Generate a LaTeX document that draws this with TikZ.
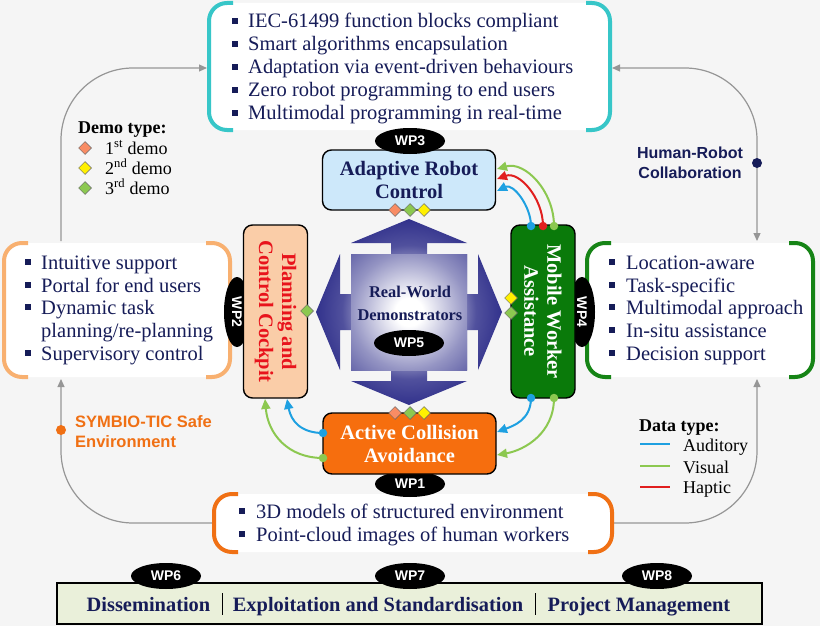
\documentclass[tikz,border=0pt]{standalone}
\usepackage{fontspec}
\setmainfont{Liberation Serif}
\setsansfont{Liberation Sans}
\usetikzlibrary{arrows.meta,shapes.geometric,calc}
\definecolor{navy}{RGB}{22,28,88}
\definecolor{cyanb}{RGB}{55,198,200}
\definecolor{lorange}{RGB}{248,176,112}
\definecolor{dgreen}{RGB}{22,132,22}
\definecolor{borange}{RGB}{240,112,20}
\definecolor{lblue}{RGB}{205,232,250}
\definecolor{peach}{RGB}{250,205,168}
\definecolor{mwgreen}{RGB}{10,122,10}
\definecolor{acaorange}{RGB}{246,110,14}
\definecolor{barfill}{RGB}{234,240,218}
\definecolor{dsalmon}{RGB}{248,140,100}
\definecolor{dyellow}{RGB}{255,240,0}
\definecolor{dlgreen}{RGB}{140,200,80}
\definecolor{aud}{RGB}{30,160,225}
\definecolor{vis}{RGB}{140,200,80}
\definecolor{hap}{RGB}{225,30,30}
\definecolor{shapeblue}{RGB}{50,50,140}
\definecolor{bgc}{RGB}{245,245,245}
\definecolor{loopgray}{RGB}{150,150,150}
\definecolor{pccred}{RGB}{232,20,28}
\pgfdeclareradialshading{cshade}{\pgfpoint{0bp}{0bp}}{color(0bp)=(white); color(4bp)=(white); color(10bp)=(shapeblue!38!white); color(14.5bp)=(shapeblue!62!white); color(18bp)=(shapeblue!85!white); color(25bp)=(shapeblue); color(50bp)=(shapeblue)}
\pgfdeclareradialshading{sqshade}{\pgfpoint{0bp}{0bp}}{color(0bp)=(white); color(6bp)=(white); color(25bp)=(shapeblue!52!white); color(36bp)=(shapeblue!75!white); color(50bp)=(shapeblue!75!white)}
\newcommand\mybracket[5]{%
  \fill[white,rounded corners=18pt] (#2,#3) rectangle (#4,#5);
  \draw[#1,line width=4pt,rounded corners=18pt] (#2+24,#3) -- (#2,#3) -- (#2,#5) -- (#2+24,#5);
  \draw[#1,line width=4pt,rounded corners=18pt] (#4-24,#3) -- (#4,#3) -- (#4,#5) -- (#4-24,#5);
}
\tikzset{
  wp/.style={ellipse, fill=black, text=white, font=\sffamily\bfseries\fontsize{14}{14}\selectfont, minimum width=70pt, minimum height=26pt, inner sep=0pt},
  boxn/.style={draw=black, line width=1.4pt, rounded corners=9pt, align=center, font=\bfseries\fontsize{20.5}{23}\selectfont, inner sep=0pt},
  item/.style={anchor=base west, text=navy, font=\fontsize{20.5}{23}\selectfont, inner sep=0pt},
  bul/.style={fill=navy, minimum size=6pt, inner sep=0pt},
  dia/.style={diamond, draw=black!60, line width=0.5pt, minimum size=13pt, inner sep=0pt},
  loopl/.style={draw=loopgray, line width=1.2pt, rounded corners=72pt},
  tip/.style={-{Triangle[length=8pt,width=7pt]}},
  dl/.style={line width=2pt, -{Triangle[length=10pt,width=9pt]}},
  dot/.style={circle, minimum size=8.5pt, inner sep=0pt},
  leg/.style={anchor=base west, font=\fontsize{18}{20}\selectfont, inner sep=0pt},
}
\begin{document}
\begin{tikzpicture}[x=1pt,y=-1pt]
\useasboundingbox (0,0) rectangle (820,626);
\fill[bgc] (0,0) rectangle (820,626);

% ---------- grey loop ----------
\coordinate (ltop) at (61,241);
\coordinate (lbot) at (61,379);
\coordinate (ttl) at (207,68);
\coordinate (ttr) at (612,68);
\coordinate (rtop) at (757,241);
\coordinate (rbot) at (757,379);
\coordinate (bbl) at (212,523);
\coordinate (bbr) at (614,523);
\draw[loopl, tip] (ltop) -- (61,68) -- (ttl);
\draw[loopl, {Triangle[length=8pt,width=7pt]}-{Triangle[length=8pt,width=7pt]}] (ttr) -- (757,68) -- (rtop);
\draw[loopl, tip] (bbl) -- (61,523) -- (lbot);
\draw[loopl, tip] (bbr) -- (757,523) -- (rbot);
\node[dot, fill=borange, minimum size=10pt] (sdot) at (61,430) {};
\node[dot, fill=navy, minimum size=10pt] (hdot) at (757,163) {};
\node[anchor=west, align=left, text=borange, font=\sffamily\bfseries\fontsize{16.5}{20}\selectfont, inner sep=0pt] (symb) at (75,432) {SYMBIO-TIC Safe\\Environment};
\node[align=center, text=navy, font=\sffamily\bfseries\fontsize{16}{20}\selectfont, inner sep=0pt] (hrc) at (690,163) {Human-Robot\\Collaboration};

% ---------- brackets ----------
\mybracket{cyanb}{209}{3}{610}{130}
\mybracket{lorange}{4}{243}{230}{377}
\mybracket{dgreen}{587}{243}{813}{377}
\mybracket{borange}{214}{494}{612}{552}

% top items
\foreach \s [count=\i] in {IEC-61499 function blocks compliant,Smart algorithms encapsulation,Adaptation via event-driven behaviours,Zero robot programming to end users,Multimodal programming in real-time}{
  \node[item] (tt\i) at (248,4.5+23*\i) {\s};
  \node[bul] (tb\i) at (235,-2.2+23*\i) {};
}
% left items
\node[item] (l1) at (41,269) {Intuitive support};
\node[item] (l2) at (41,292) {Portal for end users};
\node[item] (l3) at (41,314) {Dynamic task};
\node[item] (l4) at (41,337) {planning/re-planning};
\node[item] (l5) at (41,360) {Supervisory control};
\node[bul] (lb1) at (28,262.3) {};
\node[bul] (lb2) at (28,285.3) {};
\node[bul] (lb3) at (28,307.3) {};
\node[bul] (lb5) at (28,353.3) {};
% right items
\node[item] (r1) at (626,269) {Location-aware};
\node[item] (r2) at (626,292) {Task-specific};
\node[item] (r3) at (626,314) {Multimodal approach};
\node[item] (r4) at (626,337) {In-situ assistance};
\node[item] (r5) at (626,360) {Decision support};
\node[bul] (rb1) at (612,262.3) {};
\node[bul] (rb2) at (612,285.3) {};
\node[bul] (rb3) at (612,307.3) {};
\node[bul] (rb4) at (612,330.3) {};
\node[bul] (rb5) at (612,353.3) {};
% bottom items
\node[item] (b1) at (256,518) {3D models of structured environment};
\node[item] (b2) at (256,541) {Point-cloud images of human workers};
\node[bul] (bb1) at (242,511.3) {};
\node[bul] (bb2) at (242,534.3) {};

% ---------- central shape ----------
\shade[shading=cshade] (409,219) -- (467,243) -- (427,243) -- (427,254) -- (467,254) -- (467,294) -- (478,294) -- (478,254) -- (502,312) -- (478,370) -- (478,330) -- (467,330) -- (467,370) -- (427,370) -- (427,381) -- (467,381) -- (409,405) -- (351,381) -- (391,381) -- (391,370) -- (351,370) -- (351,330) -- (340,330) -- (340,370) -- (316,312) -- (340,254) -- (340,294) -- (351,294) -- (351,254) -- (391,254) -- (391,243) -- (351,243) -- cycle;
\shade[shading=sqshade] (351,254) rectangle (467,370);
\node[text=navy, font=\bfseries\fontsize{16.4}{23}\selectfont, align=center, inner sep=0pt] (rwd) at (410,303) {Real-World\\Demonstrators};
\node[wp] (wp5) at (409,343) {WP5};

% ---------- WP ellipses behind boxes ----------
\node[wp, rotate=-90] (wp2) at (237,312) {WP2};
\node[wp, rotate=-90] (wp4) at (582,312) {WP4};
\node[wp] (wp1) at (410,484) {WP1};

% ---------- boxes ----------
\node[boxn, fill=lblue, text=navy, minimum width=173pt, minimum height=60pt] (arc) at (409,180) {Adaptive Robot\\Control};
\node[boxn, fill=peach, text=pccred, rotate=-90, minimum width=173pt, minimum height=64pt] (pcc) at (275.5,311.5) {Planning and\\Control Cockpit};
\node[boxn, fill=mwgreen, text=white, rotate=-90, minimum width=173pt, minimum height=64pt] (mwa) at (543,311.5) {Mobile Worker\\Assistance};
\node[boxn, fill=acaorange, text=white, minimum width=173pt, minimum height=61pt] (aca) at (409.5,443.5) {Active Collision\\Avoidance};
\node[wp] (wp3) at (410,141) {WP3};

% ---------- diamonds ----------
\node[dia, fill=dsalmon] (d1) at (395,210) {};
\node[dia, fill=dlgreen] (d2) at (410,210) {};
\node[dia, fill=dyellow] (d3) at (424,210) {};
\node[dia, fill=dsalmon] (d4) at (395,413) {};
\node[dia, fill=dlgreen] (d5) at (410,413) {};
\node[dia, fill=dyellow] (d6) at (424,413) {};
\node[dia, fill=dlgreen] (d7) at (307,311) {};
\node[dia, fill=dyellow] (d8) at (511,298) {};
\node[dia, fill=dlgreen] (d9) at (511,313) {};

% ---------- data connectors ----------
\coordinate (mt1) at (531,226); \coordinate (mt2) at (543,226); \coordinate (mt3) at (554,226);
\coordinate (ar1) at (497,191); \coordinate (ar2) at (497,179); \coordinate (ar3) at (497,169);
\coordinate (mb1) at (531,398); \coordinate (mb3) at (554,398);
\coordinate (ac1) at (497,432); \coordinate (ac3) at (497,455);
\coordinate (al1) at (323,433); \coordinate (al3) at (323,458);
\coordinate (pb1) at (287,399); \coordinate (pb3) at (265,399);
\draw[dl, aud] (mt1) .. controls +(0,-20) and +(16,-8) .. (ar1);
\draw[dl, hap] (mt2) .. controls +(0,-28) and +(22,-8) .. (ar2);
\draw[dl, vis] (mt3) .. controls +(0,-35) and +(28,-8) .. (ar3);
\draw[dl, aud] (mb1) .. controls +(0,22) and +(16,-6) .. (ac1);
\draw[dl, vis] (mb3) .. controls +(0,35) and +(28,-5) .. (ac3);
\draw[dl, aud] (al1) .. controls +(-22,0) and +(4,22) .. (pb1);
\draw[dl, vis] (al3) .. controls +(-35,0) and +(3,35) .. (pb3);
\node[dot, fill=aud] (dt1) at (mt1) {};
\node[dot, fill=hap] (dt2) at (mt2) {};
\node[dot, fill=vis] (dt3) at (mt3) {};
\node[dot, fill=aud] (dt4) at (mb1) {};
\node[dot, fill=vis] (dt5) at (mb3) {};
\node[dot, fill=aud] (dt6) at (al1) {};
\node[dot, fill=vis] (dt7) at (al3) {};

% ---------- legends ----------
\node[leg, font=\bfseries\fontsize{18}{20}\selectfont] (demot) at (78,133) {Demo type:};
\node[dia, fill=dsalmon] (ld1) at (85,148) {};
\node[dia, fill=dyellow] (ld2) at (85,168) {};
\node[dia, fill=dlgreen] (ld3) at (85,188) {};
\node[leg] (lt1) at (105,154) {1\textsuperscript{st} demo};
\node[leg] (lt2) at (105,174) {2\textsuperscript{nd} demo};
\node[leg] (lt3) at (105,194) {3\textsuperscript{rd} demo};

\node[leg, font=\bfseries\fontsize{18}{20}\selectfont] (datat) at (639,431) {Data type:};
\coordinate (la1) at (640,444); \coordinate (lb1x) at (670,444);
\coordinate (la2) at (640,466); \coordinate (lb2x) at (670,466);
\coordinate (la3) at (640,487); \coordinate (lb3x) at (670,487);
\draw[aud, line width=2pt] (la1) -- (lb1x);
\draw[vis, line width=2pt] (la2) -- (lb2x);
\draw[hap, line width=2pt] (la3) -- (lb3x);
\node[leg] (dd1) at (683,451) {Auditory};
\node[leg] (dd2) at (683,473) {Visual};
\node[leg] (dd3) at (683,493) {Haptic};

% ---------- bottom bar ----------
\node[draw=black, line width=2pt, fill=barfill, minimum width=705pt, minimum height=41pt, inner sep=0pt] (bar) at (409.5,603.5) {};
\draw[black, line width=1pt] (222,593) -- (222,615);
\draw[black, line width=1pt] (535,593) -- (535,615);
\node[anchor=base, text=navy, font=\bfseries\fontsize{20.4}{23}\selectfont, inner sep=0pt] (dis) at (148.5,611) {Dissemination};
\node[anchor=base, text=navy, font=\bfseries\fontsize{20.4}{23}\selectfont, inner sep=0pt] (exs) at (378,611) {Exploitation and Standardisation};
\node[anchor=base, text=navy, font=\bfseries\fontsize{20.4}{23}\selectfont, inner sep=0pt] (pm) at (639,611) {Project Management};
\node[wp] (wp6) at (166,576) {WP6};
\node[wp] (wp7) at (410,576) {WP7};
\node[wp] (wp8) at (657,576) {WP8};
\end{tikzpicture}
\end{document}
